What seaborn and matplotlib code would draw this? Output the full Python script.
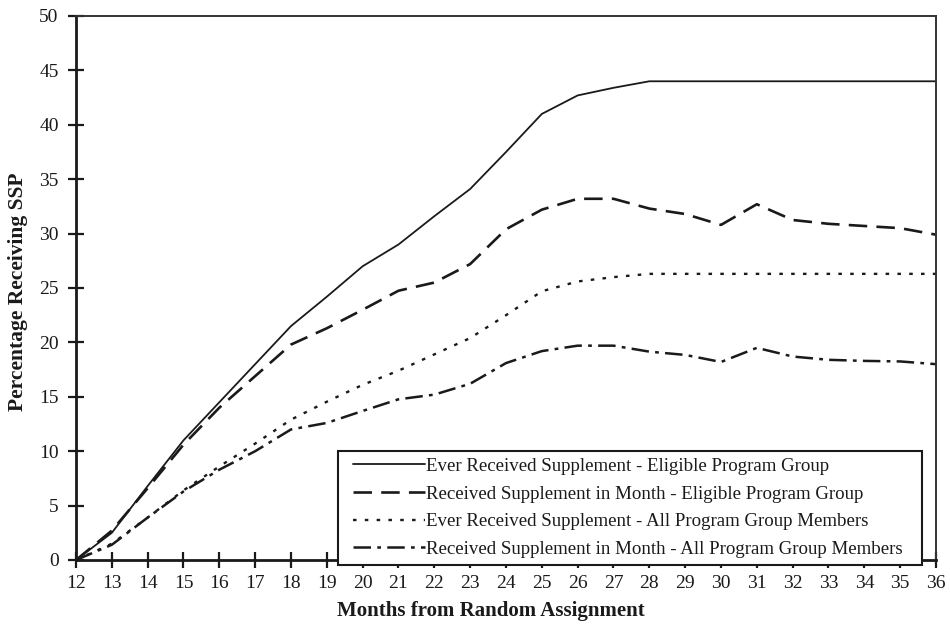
import matplotlib
matplotlib.use("Agg")
import matplotlib.pyplot as plt
from matplotlib.legend_handler import HandlerLine2D
import seaborn as sns
import numpy as np
import pandas as pd

months = list(range(12, 37))
ever_eligible = [0, 2.5, 6.8, 11.0, 14.5, 18.0, 21.5, 24.2, 27.0, 29.0, 31.6, 34.1, 37.5,
                 41.0, 42.7, 43.4, 44.0, 44.0, 44.0, 44.0, 44.0, 44.0, 44.0, 44.0, 44.0]
month_eligible = [0, 2.7, 6.6, 10.6, 14.0, 16.9, 19.8, 21.3, 23.0, 24.75, 25.5, 27.2, 30.4,
                  32.2, 33.2, 33.2, 32.3, 31.8, 30.8, 32.7, 31.25, 30.9, 30.7, 30.5, 29.9]
ever_all = [0, 1.5, 3.9, 6.4, 8.6, 10.7, 12.9, 14.55, 16.1, 17.4, 18.9, 20.4, 22.5,
            24.7, 25.6, 26.0, 26.3, 26.3, 26.3, 26.3, 26.3, 26.3, 26.3, 26.3, 26.3]
month_all = [0, 1.4, 3.9, 6.3, 8.3, 10.0, 12.0, 12.6, 13.7, 14.77, 15.2, 16.2, 18.1,
             19.2, 19.7, 19.7, 19.15, 18.85, 18.2, 19.5, 18.7, 18.4, 18.3, 18.25, 18.0]

labels = ["Ever Received Supplement - Eligible Program Group",
          "Received Supplement in Month - Eligible Program Group",
          "Ever Received Supplement - All Program Group Members",
          "Received Supplement in Month - All Program Group Members"]
yticks = list(range(0, 51, 5))
xticks = months

sns.set_theme(style="white")
plt.rcParams['font.family'] = ['Liberation Serif', 'DejaVu Serif']

fig = plt.figure(figsize=(9.5, 6.25), dpi=100)
ax = fig.add_axes([76/950, 1-560/625, 860/950, 544/625])

series = [ever_eligible, month_eligible, ever_all, month_all]
styles = [dict(linestyle='-', linewidth=1.3),
          dict(linestyle=(0, (7, 3.5)), linewidth=1.9),
          dict(linestyle=(0, (1.5, 3.5)), linewidth=1.7),
          dict(linestyle=(0, (7, 2.5, 1.5, 2.5)), linewidth=1.8)]
for vals, lab, st in zip(series, labels, styles):
    df = pd.DataFrame({"month": months, "pct": vals})
    sns.lineplot(data=df, x="month", y="pct", ax=ax, color="#1a1a1a", label=lab, **st)

h, l = ax.get_legend_handles_labels()
ax.get_legend().remove()

ax.set_xlim(12, 36)
ax.set_ylim(0, 50)
ax.set_xticks(xticks)
ax.set_yticks(yticks)
ax.tick_params(axis='both', direction='inout', length=11, width=1.6, color='#1a1a1a',
               labelsize=14, labelcolor='#1a1a1a', left=True, bottom=True)
ax.tick_params(axis='x', pad=5)
ax.tick_params(axis='y', pad=7)
for s in ['left', 'bottom']:
    ax.spines[s].set_linewidth(2.0)
    ax.spines[s].set_color('#1a1a1a')
for s in ['top', 'right']:
    ax.spines[s].set_linewidth(1.4)
    ax.spines[s].set_color('#333333')
    ax.spines[s].set_visible(True)

ax.set_xlabel("Months from Random Assignment", fontsize=15, fontweight='bold', color='#1a1a1a')
ax.set_ylabel("Percentage Receiving SSP", fontsize=15.5, fontweight='bold', color='#1a1a1a')
ax.xaxis.set_label_coords((491-76)/860, -(611-560)/544)
ax.xaxis.label.set_va('center')
ax.yaxis.set_label_coords(-(76-18)/860, (560-292)/544)
ax.yaxis.label.set_va('center')

fs = 13.6
leg = fig.legend(h, l, loc='lower left',
                 bbox_to_anchor=(338/950, 1-565/625, (922-338)/950, (565-443)/625),
                 mode='expand', fontsize=fs, frameon=True, fancybox=False,
                 edgecolor='#1a1a1a', framealpha=1, handlelength=4.2, handletextpad=0.1,
                 labelspacing=0.55, borderpad=0.38, borderaxespad=0,
                 handler_map={plt.Line2D: HandlerLine2D(xpad=0.42)})
leg.get_frame().set_linewidth(1.5)
for t in leg.get_texts():
    t.set_color('#1a1a1a')

fig.savefig("out.png", dpi=100)
